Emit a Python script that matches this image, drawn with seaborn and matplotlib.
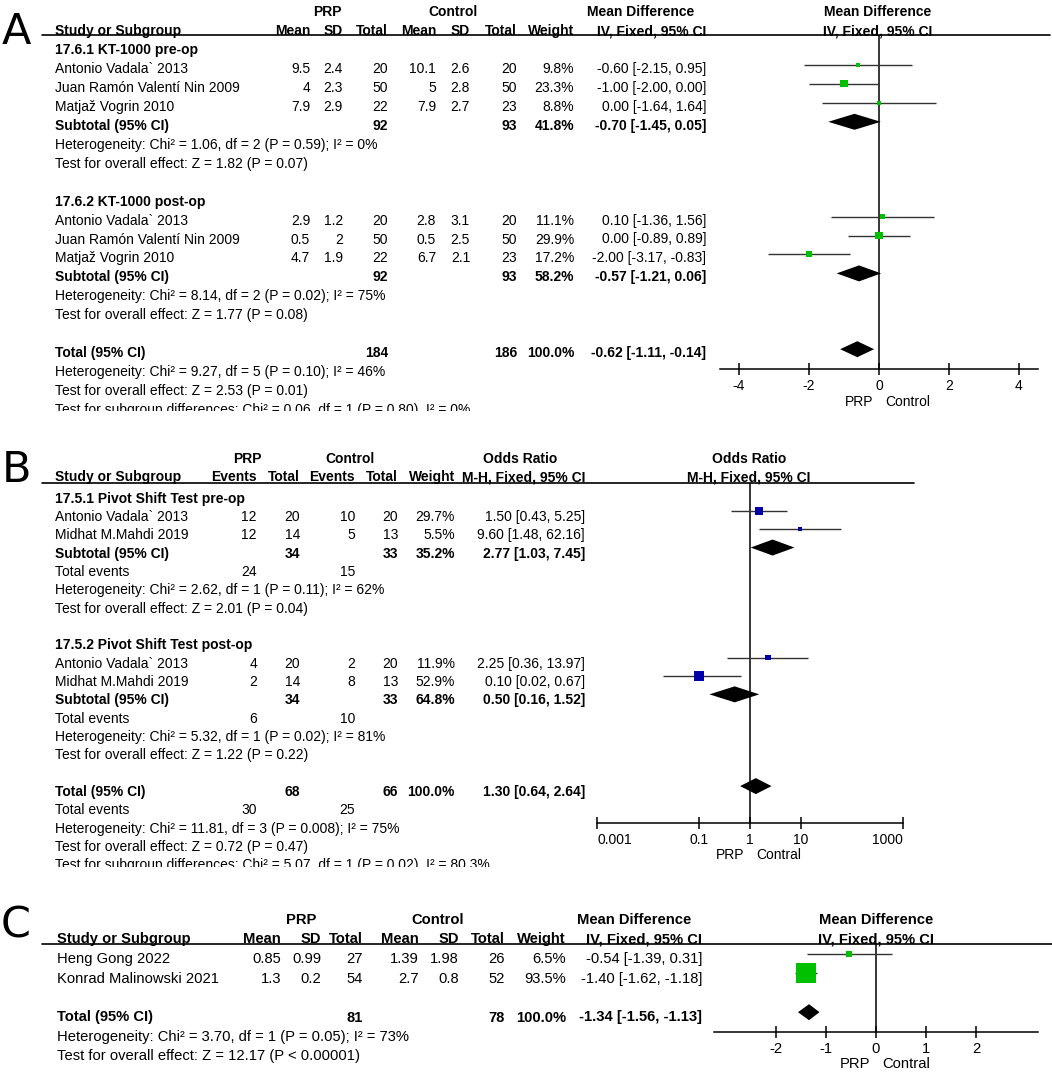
import numpy as np
import pandas as pd
import matplotlib
matplotlib.use("Agg")
import matplotlib.pyplot as plt
from matplotlib.transforms import Bbox
from matplotlib.ticker import NullLocator
import seaborn as sns

# -----------------------------------------------------------
# Panel A : KT-1000 (mean difference)
# -----------------------------------------------------------
a_group = ["17.6.1 KT-1000 pre-op", "17.6.2 KT-1000 post-op"]
a_study = ["Antonio Vadala` 2013", "Juan Ramón Valentí Nin 2009", "Matjaž Vogrin 2010",
           "Antonio Vadala` 2013", "Juan Ramón Valentí Nin 2009", "Matjaž Vogrin 2010"]
a_prp_mean = [9.5, 4, 7.9, 2.9, 0.5, 4.7]
a_prp_sd = [2.4, 2.3, 2.9, 1.2, 2, 1.9]
a_prp_n = [20, 50, 22, 20, 50, 22]
a_ctl_mean = [10.1, 5, 7.9, 2.8, 0.5, 6.7]
a_ctl_sd = [2.6, 2.8, 2.7, 3.1, 2.5, 2.1]
a_ctl_n = [20, 50, 23, 20, 50, 23]
a_weight = [9.8, 23.3, 8.8, 11.1, 29.9, 17.2]
a_md = [-0.60, -1.00, 0.00, 0.10, 0.00, -2.00]
a_lo = [-2.15, -2.00, -1.64, -1.36, -0.89, -3.17]
a_hi = [0.95, 0.00, 1.64, 1.56, 0.89, -0.83]
# subtotal pre, subtotal post, overall
a_sum_prp_n = [92, 92, 184]
a_sum_ctl_n = [93, 93, 186]
a_sum_weight = [41.8, 58.2, 100.0]
a_sum_md = [-0.70, -0.57, -0.62]
a_sum_lo = [-1.45, -1.21, -1.11]
a_sum_hi = [0.05, 0.06, -0.14]
a_het = ["Heterogeneity: Chi² = 1.06, df = 2 (P = 0.59); I² = 0%",
         "Heterogeneity: Chi² = 8.14, df = 2 (P = 0.02); I² = 75%",
         "Heterogeneity: Chi² = 9.27, df = 5 (P = 0.10); I² = 46%"]
a_effect = ["Test for overall effect: Z = 1.82 (P = 0.07)",
            "Test for overall effect: Z = 1.77 (P = 0.08)",
            "Test for overall effect: Z = 2.53 (P = 0.01)"]
a_subgroup = "Test for subgroup differences: Chi² = 0.06, df = 1 (P = 0.80), I² = 0%"
a_ticks = [-4, -2, 0, 2, 4]

# -----------------------------------------------------------
# Panel B : Pivot shift (odds ratio)
# -----------------------------------------------------------
b_group = ["17.5.1 Pivot Shift Test pre-op", "17.5.2 Pivot Shift Test post-op"]
b_study = ["Antonio Vadala` 2013", "Midhat M.Mahdi 2019", "Antonio Vadala` 2013", "Midhat M.Mahdi 2019"]
b_prp_events = [12, 12, 4, 2]
b_prp_n = [20, 14, 20, 14]
b_ctl_events = [10, 5, 2, 8]
b_ctl_n = [20, 13, 20, 13]
b_weight = [29.7, 5.5, 11.9, 52.9]
b_or = [1.50, 9.60, 2.25, 0.10]
b_lo = [0.43, 1.48, 0.36, 0.02]
b_hi = [5.25, 62.16, 13.97, 0.67]
b_sum_prp_n = [34, 34, 68]
b_sum_ctl_n = [33, 33, 66]
b_sum_prp_events = [24, 6, 30]
b_sum_ctl_events = [15, 10, 25]
b_sum_weight = [35.2, 64.8, 100.0]
b_sum_or = [2.77, 0.50, 1.30]
b_sum_lo = [1.03, 0.16, 0.64]
b_sum_hi = [7.45, 1.52, 2.64]
b_het = ["Heterogeneity: Chi² = 2.62, df = 1 (P = 0.11); I² = 62%",
         "Heterogeneity: Chi² = 5.32, df = 1 (P = 0.02); I² = 81%",
         "Heterogeneity: Chi² = 11.81, df = 3 (P = 0.008); I² = 75%"]
b_effect = ["Test for overall effect: Z = 2.01 (P = 0.04)",
            "Test for overall effect: Z = 1.22 (P = 0.22)",
            "Test for overall effect: Z = 0.72 (P = 0.47)"]
b_subgroup = "Test for subgroup differences: Chi² = 5.07, df = 1 (P = 0.02), I² = 80.3%"
b_ticks = [0.001, 0.1, 1, 10, 1000]
b_tick_labels = ["0.001", "0.1", "1", "10", "1000"]

# -----------------------------------------------------------
# Panel C : (mean difference)
# -----------------------------------------------------------
c_study = ["Heng Gong 2022", "Konrad Malinowski 2021"]
c_prp_mean = [0.85, 1.3]
c_prp_sd = [0.99, 0.2]
c_prp_n = [27, 54]
c_ctl_mean = [1.39, 2.7]
c_ctl_sd = [1.98, 0.8]
c_ctl_n = [26, 52]
c_weight = [6.5, 93.5]
c_md = [-0.54, -1.40]
c_lo = [-1.39, -1.62]
c_hi = [0.31, -1.18]
c_tot_prp_n = 81
c_tot_ctl_n = 78
c_tot_weight = 100.0
c_tot_md, c_tot_lo, c_tot_hi = -1.34, -1.56, -1.13
c_het = "Heterogeneity: Chi² = 3.70, df = 1 (P = 0.05); I² = 73%"
c_effect = "Test for overall effect: Z = 12.17 (P < 0.00001)"
c_ticks = [-2, -1, 0, 1, 2]

# -----------------------------------------------------------
# Figure set-up (pixel based layout, 1052 x 1073)
# -----------------------------------------------------------
sns.set_style("white")
plt.rcParams["font.family"] = ["Liberation Sans", "DejaVu Sans"]
plt.rcParams["axes.unicode_minus"] = False

W, H = 1052, 1073
GREEN = "#00C000"
BLUE = "#0000A8"
LINE = "#333333"

fig = plt.figure(figsize=(W / 100, H / 100), dpi=100, facecolor="white")
bg = fig.add_axes([0, 0, 1, 1])
bg.set_xlim(0, W)
bg.set_ylim(H, 0)
bg.axis("off")


def txt(x, y, s, ha="left", bold=False, size=10, clip=None):
    t = bg.text(x, y + 0.5 * size, s, ha=ha, va="baseline", fontsize=size,
                fontweight="bold" if bold else "normal", color="black")
    if clip is not None:
        t.set_clip_on(True)
        t.set_clip_box(Bbox([[0, H - clip], [W, H]]))
    return t


def ci_text(est, lo, hi):
    return f"{est:.2f} [{lo:.2f}, {hi:.2f}]"


def num(v):
    return f"{v:g}"


def panel_letter(x, y, s):
    bg.text(x, y, s, ha="center", va="center", fontsize=31, color="black",
            family=["DejaVu Sans"])


def forest_axes(x0, x1, y0, y1, xlim, ticks, labels, ref, log=False, size=10):
    ax = fig.add_axes([x0 / W, 1 - y1 / H, (x1 - x0) / W, (y1 - y0) / H])
    if log:
        ax.set_xscale("log")
    ax.set_xlim(*xlim)
    ax.set_ylim(y1, y0)
    ax.patch.set_alpha(0)
    for s in ["top", "left", "right"]:
        ax.spines[s].set_visible(False)
    ax.spines["bottom"].set_color("black")
    ax.spines["bottom"].set_linewidth(1.1)
    ax.set_xticks(ticks)
    ax.set_xticklabels(labels)
    ax.xaxis.set_minor_locator(NullLocator())
    ax.tick_params(axis="x", bottom=True, direction="inout", length=8, width=1.1,
                   labelsize=size, pad=3, colors="black")
    ax.set_yticks([])
    ax.axvline(ref, color="black", lw=1.1, zorder=1)
    return ax


def squares(ax, est, ys, weights, k, color):
    side = [k * np.sqrt(w) * 0.72 for w in weights]
    sns.scatterplot(x=est, y=ys, s=[v ** 2 for v in side], marker="s", color=color,
                    linewidth=0, ax=ax, legend=False, zorder=3)


def diamond(ax, est, lo, hi, y, h=8):
    ax.fill([lo, est, hi, est], [y, y - h, y, y + h], color="black", lw=0, zorder=3)


# -----------------------------------------------------------
# Panel A
# -----------------------------------------------------------
panel_letter(16, 32, "A")
ay = lambda i: 49 + 18.95 * i
txt(327, 11, "PRP", ha="center", bold=True)
txt(453, 11, "Control", ha="center", bold=True)
txt(641, 11, "Mean Difference", ha="center", bold=True)
txt(878, 11, "Mean Difference", ha="center", bold=True)
for x, s in zip([310, 343, 388, 436, 470, 517, 574, 706],
                ["Mean", "SD", "Total", "Mean", "SD", "Total", "Weight", "IV, Fixed, 95% CI"]):
    txt(x, 30, s, ha="right", bold=True)
txt(55, 30, "Study or Subgroup", bold=True)
txt(878, 30, "IV, Fixed, 95% CI", ha="center", bold=True)
bg.plot([42, 1050], [35, 35], color="black", lw=1.2)

axA = forest_axes(720, 1038, 35, 369, (-4.543, 4.543), a_ticks, [str(t) for t in a_ticks], 0)
for g in range(2):
    base = g * 8
    txt(55, ay(base), a_group[g], bold=True)
    for j in range(3):
        k = g * 3 + j
        r = base + 1 + j
        txt(55, ay(r), a_study[k])
        for x, v in zip([310, 343, 388, 436, 470, 517],
                        [a_prp_mean[k], a_prp_sd[k], a_prp_n[k], a_ctl_mean[k], a_ctl_sd[k], a_ctl_n[k]]):
            txt(x, ay(r), num(v), ha="right")
        txt(574, ay(r), f"{a_weight[k]:.1f}%", ha="right")
        txt(706, ay(r), ci_text(a_md[k], a_lo[k], a_hi[k]), ha="right")
        axA.hlines(ay(r) - 3, a_lo[k], a_hi[k], color=LINE, lw=1, zorder=2)
    idx = slice(g * 3, g * 3 + 3)
    squares(axA, a_md[idx], [ay(base + 1 + j) - 3 for j in range(3)], a_weight[idx], 1.46, GREEN)
    r = base + 4
    txt(55, ay(r), "Subtotal (95% CI)", bold=True)
    txt(388, ay(r), str(a_sum_prp_n[g]), ha="right", bold=True)
    txt(517, ay(r), str(a_sum_ctl_n[g]), ha="right", bold=True)
    txt(574, ay(r), f"{a_sum_weight[g]:.1f}%", ha="right", bold=True)
    txt(706, ay(r), ci_text(a_sum_md[g], a_sum_lo[g], a_sum_hi[g]), ha="right", bold=True)
    diamond(axA, a_sum_md[g], a_sum_lo[g], a_sum_hi[g], ay(r) - 3)
    txt(55, ay(base + 5), a_het[g])
    txt(55, ay(base + 6), a_effect[g])
txt(55, ay(16), "Total (95% CI)", bold=True)
txt(388, ay(16), str(a_sum_prp_n[2]), ha="right", bold=True)
txt(517, ay(16), str(a_sum_ctl_n[2]), ha="right", bold=True)
txt(574, ay(16), f"{a_sum_weight[2]:.1f}%", ha="right", bold=True)
txt(706, ay(16), ci_text(a_sum_md[2], a_sum_lo[2], a_sum_hi[2]), ha="right", bold=True)
diamond(axA, a_sum_md[2], a_sum_lo[2], a_sum_hi[2], ay(16) - 3)
txt(55, ay(17), a_het[2])
txt(55, ay(18), a_effect[2])
txt(55, ay(19), a_subgroup, clip=411)
txt(873, 401, "PRP", ha="right")
txt(885, 401, "Control")

# -----------------------------------------------------------
# Panel B
# -----------------------------------------------------------
panel_letter(17, 470, "B")
by = lambda i: 497.5 + 18.35 * i
txt(247, 458, "PRP", ha="center", bold=True)
txt(350, 458, "Control", ha="center", bold=True)
txt(520, 458, "Odds Ratio", ha="center", bold=True)
txt(749, 458, "Odds Ratio", ha="center", bold=True)
for x, s in zip([257, 300, 355, 398, 455, 585],
                ["Events", "Total", "Events", "Total", "Weight", "M-H, Fixed, 95% CI"]):
    txt(x, 476, s, ha="right", bold=True)
txt(55, 476, "Study or Subgroup", bold=True)
txt(749, 476, "M-H, Fixed, 95% CI", ha="center", bold=True)
bg.plot([42, 914], [483, 483], color="black", lw=1.2)

axB = forest_axes(597, 903, 483, 823, (0.001, 1000), b_ticks, b_tick_labels, 1, log=True)
tl = axB.get_xticklabels()
tl[0].set_ha("left")
tl[-1].set_ha("right")
for g in range(2):
    base = g * 8
    txt(55, by(base), b_group[g], bold=True)
    for j in range(2):
        k = g * 2 + j
        r = base + 1 + j
        txt(55, by(r), b_study[k])
        for x, v in zip([257, 300, 355, 398], [b_prp_events[k], b_prp_n[k], b_ctl_events[k], b_ctl_n[k]]):
            txt(x, by(r), str(v), ha="right")
        txt(455, by(r), f"{b_weight[k]:.1f}%", ha="right")
        txt(585, by(r), ci_text(b_or[k], b_lo[k], b_hi[k]), ha="right")
        axB.hlines(by(r) - 5, b_lo[k], b_hi[k], color=LINE, lw=1, zorder=2)
    idx = slice(g * 2, g * 2 + 2)
    squares(axB, b_or[idx], [by(base + 1 + j) - 5 for j in range(2)], b_weight[idx], 1.51, BLUE)
    r = base + 3
    txt(55, by(r), "Subtotal (95% CI)", bold=True)
    txt(300, by(r), str(b_sum_prp_n[g]), ha="right", bold=True)
    txt(398, by(r), str(b_sum_ctl_n[g]), ha="right", bold=True)
    txt(455, by(r), f"{b_sum_weight[g]:.1f}%", ha="right", bold=True)
    txt(585, by(r), ci_text(b_sum_or[g], b_sum_lo[g], b_sum_hi[g]), ha="right", bold=True)
    diamond(axB, b_sum_or[g], b_sum_lo[g], b_sum_hi[g], by(r) - 5)
    txt(55, by(base + 4), "Total events")
    txt(257, by(base + 4), str(b_sum_prp_events[g]), ha="right")
    txt(355, by(base + 4), str(b_sum_ctl_events[g]), ha="right")
    txt(55, by(base + 5), b_het[g])
    txt(55, by(base + 6), b_effect[g])
txt(55, by(16), "Total (95% CI)", bold=True)
txt(300, by(16), str(b_sum_prp_n[2]), ha="right", bold=True)
txt(398, by(16), str(b_sum_ctl_n[2]), ha="right", bold=True)
txt(455, by(16), f"{b_sum_weight[2]:.1f}%", ha="right", bold=True)
txt(585, by(16), ci_text(b_sum_or[2], b_sum_lo[2], b_sum_hi[2]), ha="right", bold=True)
diamond(axB, b_sum_or[2], b_sum_lo[2], b_sum_hi[2], by(16) - 5)
txt(55, by(17), "Total events")
txt(257, by(17), str(b_sum_prp_events[2]), ha="right")
txt(355, by(17), str(b_sum_ctl_events[2]), ha="right")
txt(55, by(18), b_het[2])
txt(55, by(19), b_effect[2])
txt(55, by(20), b_subgroup, clip=867)
txt(744, 854, "PRP", ha="right")
txt(756, 854, "Contral")

# -----------------------------------------------------------
# Panel C (slightly larger type in the source)
# -----------------------------------------------------------
panel_letter(16, 926, "C")
cs = 10.6
cy = lambda i: 958 + 19.4 * i
txt(301, 919, "PRP", ha="center", bold=True, size=cs)
txt(438, 919, "Control", ha="center", bold=True, size=cs)
txt(634, 919, "Mean Difference", ha="center", bold=True, size=cs)
txt(876, 919, "Mean Difference", ha="center", bold=True, size=cs)
for x, s in zip([281, 321, 363, 419, 459, 505, 566, 702],
                ["Mean", "SD", "Total", "Mean", "SD", "Total", "Weight", "IV, Fixed, 95% CI"]):
    txt(x, 938, s, ha="right", bold=True, size=cs)
txt(57, 938, "Study or Subgroup", bold=True, size=cs)
txt(876, 938, "IV, Fixed, 95% CI", ha="center", bold=True, size=cs)
bg.plot([42, 1052], [944, 944], color="black", lw=1.2)

axC = forest_axes(714, 1038, 944, 1032, (-3.24, 3.24), c_ticks, [str(t) for t in c_ticks], 0, size=cs)
for k in range(2):
    txt(57, cy(k), c_study[k], size=cs)
    for x, v in zip([281, 321, 363, 419, 459, 505],
                    [c_prp_mean[k], c_prp_sd[k], c_prp_n[k], c_ctl_mean[k], c_ctl_sd[k], c_ctl_n[k]]):
        txt(x, cy(k), num(v), ha="right", size=cs)
    txt(566, cy(k), f"{c_weight[k]:.1f}%", ha="right", size=cs)
    txt(702, cy(k), ci_text(c_md[k], c_lo[k], c_hi[k]), ha="right", size=cs)
    axC.hlines(cy(k) - 4, c_lo[k], c_hi[k], color=LINE, lw=1, zorder=2)
squares(axC, c_md, [cy(k) - 4 for k in range(2)], c_weight, 2.07, GREEN)
txt(57, cy(3), "Total (95% CI)", bold=True, size=cs)
txt(363, cy(3), str(c_tot_prp_n), ha="right", bold=True, size=cs)
txt(505, cy(3), str(c_tot_ctl_n), ha="right", bold=True, size=cs)
txt(566, cy(3), f"{c_tot_weight:.1f}%", ha="right", bold=True, size=cs)
txt(702, cy(3), ci_text(c_tot_md, c_tot_lo, c_tot_hi), ha="right", bold=True, size=cs)
diamond(axC, c_tot_md, c_tot_lo, c_tot_hi, cy(3) - 4)
txt(57, cy(4), c_het, size=cs)
txt(57, cy(5), c_effect, size=cs)
txt(870, 1063, "PRP", ha="right", size=cs)
txt(882, 1063, "Contral", size=cs)

fig.savefig("out.png", dpi=100, facecolor="white")
